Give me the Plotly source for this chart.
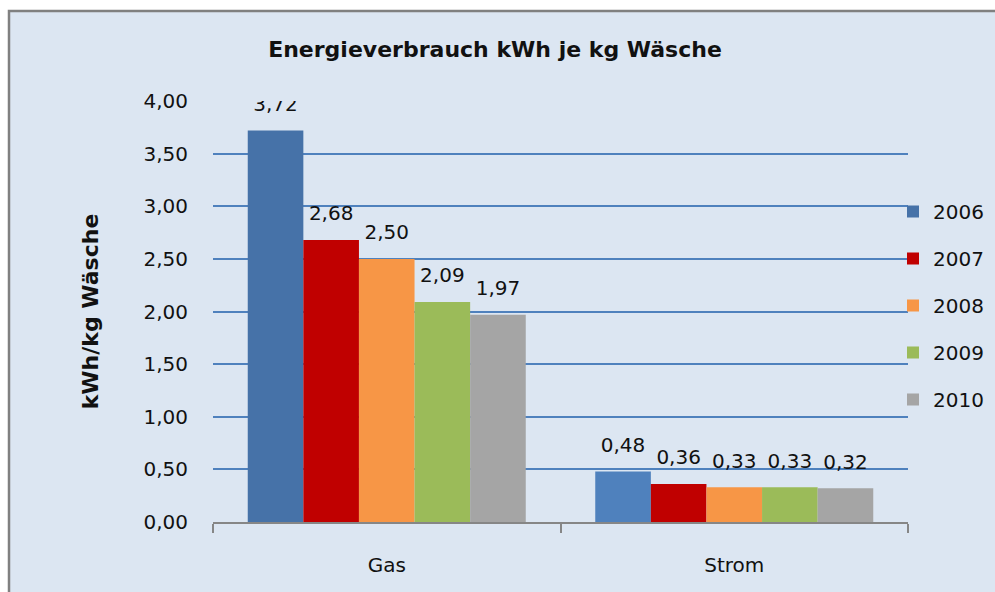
import plotly.graph_objects as go

categories = ["Gas", "Strom"]
years = ["2006", "2007", "2008", "2009", "2010"]
values = {
    "2006": [3.72, 0.48],
    "2007": [2.68, 0.36],
    "2008": [2.50, 0.33],
    "2009": [2.09, 0.33],
    "2010": [1.97, 0.32],
}
colors = {
    "2006": ["#4672a8", "#4f81bd"],
    "2007": ["#c00000", "#c00000"],
    "2008": ["#f79646", "#f79646"],
    "2009": ["#9bbb59", "#9bbb59"],
    "2010": ["#a5a5a5", "#a5a5a5"],
}
y_ticks = [0, 0.5, 1.0, 1.5, 2.0, 2.5, 3.0, 3.5, 4.0]

FONT = "DejaVu Sans"
TXT = "#111111"

W, H = 995, 592
L, R, T, B = 213, 87, 101, 70
pw, ph = W - L - R, H - T - B

def px(xp):
    return (xp - L) / pw

def py(yp):
    return (H - B - yp) / ph

fig = go.Figure()
for i, yr in enumerate(years):
    fig.add_trace(go.Bar(
        x=categories, y=values[yr], name=yr,
        marker=dict(color=colors[yr], line=dict(width=0)),
        legendgroup=yr, hoverinfo="x+y+name",
    ))
for i, yr in enumerate(years):
    fig.add_trace(go.Scatter(
        x=categories, y=values[yr], mode="markers+text",
        text=[f"{v:.2f}".replace(".", ",") for v in values[yr]],
        textposition="top center",
        textfont=dict(family=FONT, size=20, color=TXT),
        marker=dict(size=22, opacity=0, color="rgba(0,0,0,0)"),
        showlegend=False, hoverinfo="skip", legendgroup=yr,
    ))

fig.update_layout(
    width=W, height=H,
    margin=dict(l=L, r=R, t=T, b=B, autoexpand=False),
    paper_bgcolor="white",
    plot_bgcolor="rgba(0,0,0,0)",
    separators=",.",
    barmode="group", bargap=0.2, bargroupgap=0,
    scattermode="group", scattergap=0.2,
    font=dict(family=FONT, size=20, color=TXT),
    title=dict(
        text="Energieverbrauch kWh je kg Wäsche",
        font=dict(family=FONT, size=22, color=TXT, weight="bold"),
        x=px(495), xref="paper", xanchor="center",
        y=1 - 49 / H, yref="container", yanchor="middle",
    ),
    showlegend=True,
    legend=dict(
        x=px(893), xanchor="left", y=py(192), yanchor="top",
        bgcolor="rgba(0,0,0,0)", borderwidth=0,
        font=dict(family=FONT, size=20, color=TXT),
        tracegroupgap=18, itemclick=False,
    ),
    xaxis=dict(
        type="category", showgrid=False, showline=True,
        linecolor="#868686", linewidth=1.5,
        ticks="outside", tickson="boundaries", ticklen=9,
        tickcolor="#868686", tickwidth=1.5,
        tickfont=dict(family=FONT, size=20, color=TXT),
        ticklabelstandoff=24,
        fixedrange=True,
    ),
    yaxis=dict(
        range=[0, 4], tickvals=y_ticks, tickformat=".2f",
        showgrid=True, gridcolor="#4f81bd", gridwidth=1.5,
        zeroline=False, showline=False, ticks="",
        tickfont=dict(family=FONT, size=20, color=TXT),
        ticklabelstandoff=24,
        title=dict(text="kWh/kg Wäsche",
                   font=dict(family=FONT, size=22, color=TXT, weight="bold"),
                   standoff=38),
        fixedrange=True,
    ),
    shapes=[dict(
        type="rect", xref="paper", yref="paper", layer="below",
        x0=px(9), x1=px(W + 10), y0=py(H + 10), y1=py(11),
        fillcolor="#dce6f2", line=dict(color="#808080", width=2.5),
    )],
)

fig.write_html(
    "out.html",
    config={"displayModeBar": False},
    post_script="document.body.style.margin='0';document.body.style.overflow='hidden';",
)
